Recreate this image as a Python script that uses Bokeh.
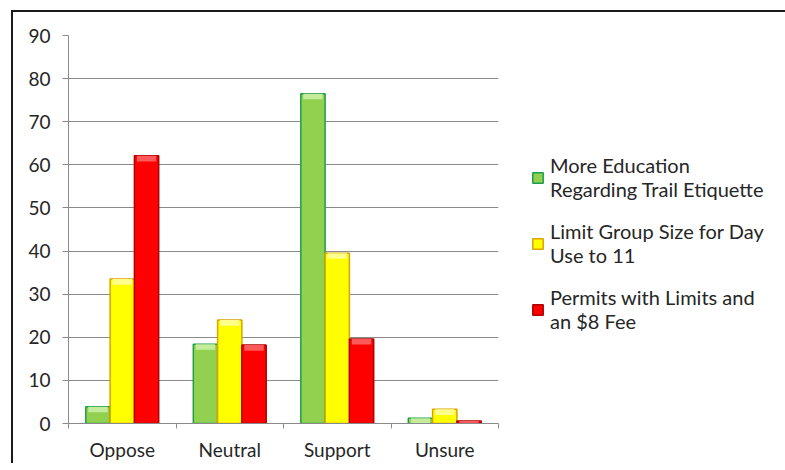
from bokeh.plotting import figure
from bokeh.models import Range1d, FixedTicker, Legend, LegendItem, ColumnDataSource
from bokeh.embed import file_html
from bokeh.resources import INLINE

categories = ["Oppose", "Neutral", "Support", "Unsure"]
series_labels = [
    "More Education\nRegarding Trail Etiquette",
    "Limit Group Size for Day\nUse to 11",
    "Permits with Limits and\nan $8 Fee",
]
education = [3.9, 18.4, 76.5, 1.2]
group_size = [33.5, 24.0, 39.5, 3.3]
permits = [62.1, 18.2, 19.6, 0.6]
y_ticks = [0, 10, 20, 30, 40, 50, 60, 70, 80, 90]

series_values = [education, group_size, permits]
fills = ["#92D050", "#FFFF00", "#FF0000"]
highlights = ["#C4EC9C", "#FFFF8C", "#FF5A5A"]
edges = ["#1E9E4A", "#D9A400", "#B00000"]
offsets = [-0.226, 0.0, 0.226]
bar_w = 0.226
bevel = 1.3  # height of the lighter top bevel, in value units

FONT = "Lato"
TXT = "#262626"
GRID = "#8A8A8A"

p = figure(
    frame_width=430, frame_height=388,
    min_border_left=55, min_border_top=23, min_border_right=285, min_border_bottom=37,
    x_range=Range1d(0, 4), y_range=Range1d(0, 90),
    output_backend="svg", toolbar_location=None,
)
p.styles = {"border-top": "2px solid #1a1a1a", "border-left": "2px solid #1a1a1a",
            "margin-left": "11px", "margin-top": "10px"}
p.outline_line_color = None
p.background_fill_color = "white"
p.border_fill_color = "white"

items = []
for vals, fc, hc, ec, off, lab in zip(series_values, fills, highlights, edges, offsets, series_labels):
    xs = [i + 0.5 + off for i in range(len(categories))]
    src = ColumnDataSource(dict(
        x=xs, top=vals,
        hb=[max(v - bevel, 0) for v in vals],
    ))
    r = p.vbar(x="x", top="top", bottom=0, width=bar_w, source=src,
               fill_color=fc, line_color=ec, line_width=1.5)
    p.vbar(x="x", top="top", bottom="hb", width=bar_w * 0.8, source=src,
           fill_color=hc, line_color=None)
    items.append(LegendItem(label=lab, renderers=[r]))

# y axis
p.yaxis.ticker = FixedTicker(ticks=y_ticks)
p.yaxis.axis_line_color = GRID
p.yaxis.major_tick_line_color = GRID
p.yaxis.major_tick_out = 6
p.yaxis.major_tick_in = 0
p.yaxis.minor_tick_line_color = None
p.yaxis.major_label_standoff = 12
p.yaxis.major_label_text_font = FONT
p.yaxis.major_label_text_font_size = "19px"
p.yaxis.major_label_text_color = TXT

# x axis: labels at centres, tick marks at boundaries
p.xaxis.ticker = FixedTicker(ticks=[i + 0.5 for i in range(len(categories))],
                             minor_ticks=list(range(len(categories) + 1)))
p.xaxis.major_label_overrides = {i + 0.5: c for i, c in enumerate(categories)}
p.xaxis.axis_line_color = GRID
p.xaxis.major_tick_line_color = None
p.xaxis.major_tick_out = 0
p.xaxis.major_tick_in = 0
p.xaxis.minor_tick_line_color = GRID
p.xaxis.minor_tick_out = 5
p.xaxis.minor_tick_in = 0
p.xaxis.major_label_standoff = 9
p.xaxis.major_label_text_font = FONT
p.xaxis.major_label_text_font_size = "19px"
p.xaxis.major_label_text_color = TXT

p.xgrid.grid_line_color = None
p.ygrid.ticker = FixedTicker(ticks=y_ticks)
p.ygrid.grid_line_color = GRID
p.ygrid.grid_line_width = 1

legend = Legend(items=items, location=(33, 90))
legend.padding = 0
legend.margin = 0
legend.border_line_color = None
legend.background_fill_alpha = 0
legend.glyph_width = 13
legend.glyph_height = 13
legend.label_standoff = 6
legend.spacing = 18
legend.label_text_font = FONT
legend.label_text_font_size = "20px"
legend.label_text_color = TXT
legend.label_text_line_height = 1.4
p.add_layout(legend, "right")

open("out.html", "w").write(file_html(p, INLINE))
